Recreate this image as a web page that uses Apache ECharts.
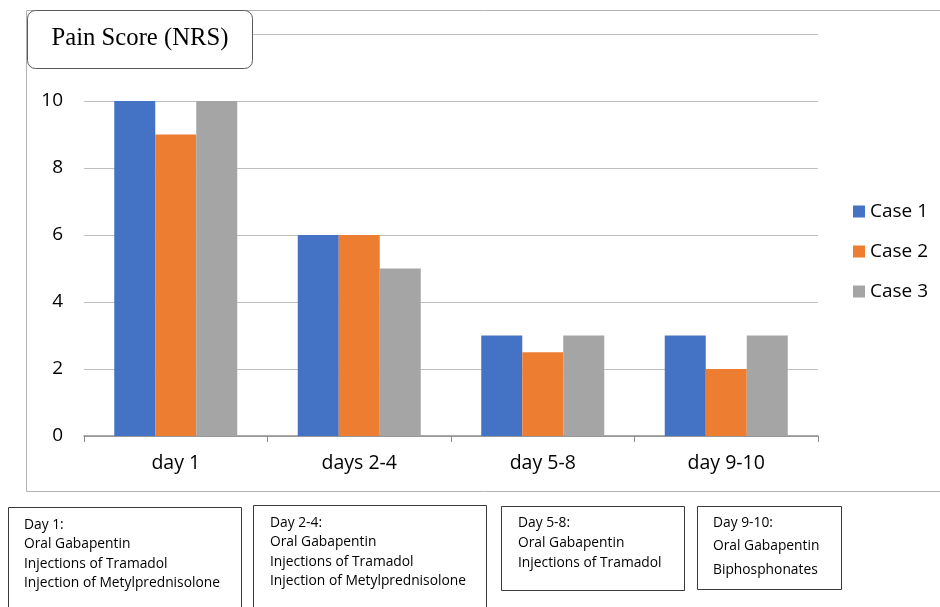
<!DOCTYPE html>
<html>
<head>
<meta charset="utf-8">
<style>html,body{margin:0;padding:0;background:#fff;}#c{width:940px;height:607px;}</style>
<script src="https://cdn.jsdelivr.net/npm/echarts@6/dist/echarts.min.js"></script>
</head>
<body>
<div id="c"></div>
<script>
const categories = ['day 1', 'days 2-4', 'day 5-8', 'day 9-10'];
const case1 = [10, 6, 3, 3];
const case2 = [9, 6, 2.5, 2];
const case3 = [10, 5, 3, 3];
const seriesNames = ['Case 1', 'Case 2', 'Case 3'];
const chartTitle = 'Pain Score (NRS)';
const noteBoxes = [
  ['Day 1:', 'Oral Gabapentin', 'Injections of Tramadol', 'Injection of Metylprednisolone'],
  ['Day 2-4:', 'Oral Gabapentin', 'Injections of Tramadol', 'Injection of Metylprednisolone'],
  ['Day 5-8:', 'Oral Gabapentin', 'Injections of Tramadol'],
  ['Day 9-10:', 'Oral Gabapentin', 'Biphosphonates']
];

const FONT = '"Open Sans"';
const colors = ['#4472C4', '#ED7D31', '#A5A5A5'];
const chart = echarts.init(document.getElementById('c'), null, {renderer: 'canvas'});

const boxGeom = [
  {x: 8, y: 507, w: 233, h: 110, tx: 24, ty: 525, lh: 19.3},
  {x: 253, y: 505, w: 233, h: 112, tx: 270, ty: 523, lh: 19.3},
  {x: 501, y: 506, w: 183, h: 84, tx: 518, ty: 523, lh: 20},
  {x: 697, y: 506, w: 144, h: 83, tx: 713, ty: 523, lh: 23.5}
];

const graphics = [
  {type: 'rect', z: 1, silent: true, shape: {x: 26.5, y: 10.5, width: 930, height: 481},
   style: {fill: 'none', stroke: '#b4b4b4', lineWidth: 1}},
  {type: 'rect', z: 100, silent: true, shape: {x: 27.5, y: 10.5, width: 225, height: 58, r: 8},
   style: {fill: '#fff', stroke: '#595959', lineWidth: 1}},
  {type: 'text', z: 101, silent: true, x: 140, y: 39,
   style: {text: chartTitle, font: '24.7px "Liberation Serif"', fill: '#000', align: 'center', verticalAlign: 'middle'}}
];
noteBoxes.forEach((lines, i) => {
  const g = boxGeom[i];
  graphics.push({type: 'rect', z: 100, silent: true, shape: {x: g.x + 0.5, y: g.y + 0.5, width: g.w, height: g.h},
    style: {fill: '#fff', stroke: '#3a3a3a', lineWidth: 1}});
  lines.forEach((t, j) => {
    graphics.push({type: 'text', z: 101, silent: true, x: g.tx, y: g.ty + j * g.lh,
      style: {text: t, font: '13.8px ' + FONT, fill: '#000', align: 'left', verticalAlign: 'middle'}});
  });
});

const dataSets = [case1, case2, case3];
chart.setOption({
  animation: false,
  backgroundColor: '#fff',
  grid: {left: 84, right: 122, top: 34, bottom: 171, containLabel: false},
  legend: {
    orient: 'vertical', left: 853, top: 202, padding: 0,
    itemWidth: 12, itemHeight: 12, itemGap: 21,
    icon: 'rect',
    textStyle: {fontFamily: FONT, fontSize: 19, color: '#000'},
    data: seriesNames
  },
  xAxis: {
    type: 'category', data: categories,
    axisLine: {lineStyle: {color: '#8c8c8c', width: 1.5}},
    axisTick: {show: true, length: 6, lineStyle: {color: '#8c8c8c'}},
    axisLabel: {fontFamily: FONT, fontSize: 19.5, color: '#000', margin: 17},
    splitLine: {show: false}
  },
  yAxis: {
    type: 'value', min: 0, max: 12, interval: 2,
    axisLine: {show: false}, axisTick: {show: false},
    axisLabel: {fontFamily: FONT, fontSize: 19, color: '#000', margin: 21,
      formatter: v => (v === 12 ? '' : String(v))},
    splitLine: {lineStyle: {color: '#bfbfbf', width: 1}}
  },
  series: seriesNames.map((n, i) => ({
    name: n, type: 'bar', data: dataSets[i],
    barWidth: 41, barGap: '0%',
    itemStyle: {color: colors[i]}
  })),
  graphic: graphics
});
</script>
</body>
</html>
